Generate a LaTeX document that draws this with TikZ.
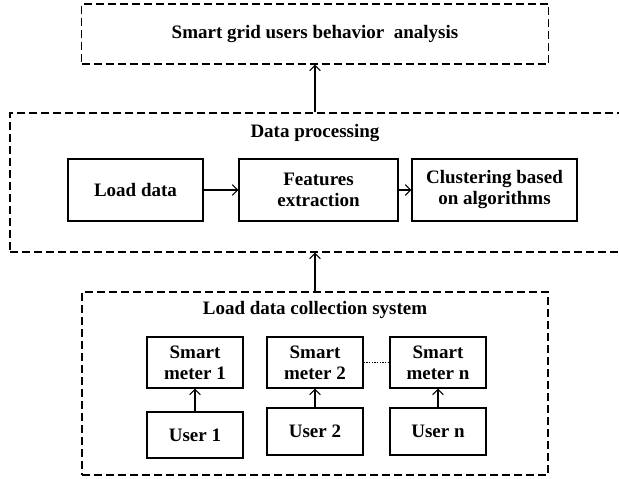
\documentclass[tikz,border=0pt]{standalone}
\usepackage{fontspec}
\setmainfont{Liberation Serif}
\usetikzlibrary{arrows.meta}
\begin{document}
\begin{tikzpicture}[x=0.75pt,y=-0.75pt,
  txt/.style={font=\bfseries\fontsize{14.25}{15.75}\selectfont, align=center, inner sep=0pt},
  dashbox/.style={draw, line width=0.9pt, dash pattern=on 6pt off 3pt, inner sep=0pt},
  solidbox/.style={draw, line width=0.9pt, txt},
  arr/.style={line width=0.8pt, -{Straight Barb[length=4pt,width=8pt,line width=0.8pt]}}
]
\useasboundingbox (0,0) rectangle (619,479);

% outer groups
\node[dashbox, minimum width=467*0.75pt, minimum height=60*0.75pt] (top) at (315,34) {};
\node[txt] (toplbl) at (315,34) {Smart grid users behavior\ \ analysis};

\node[dashbox, minimum width=610*0.75pt, minimum height=139*0.75pt] (proc) at (315,182.5) {};
\node[txt] (proclbl) at (315,133) {Data processing};

\node[dashbox, minimum width=466*0.75pt, minimum height=183*0.75pt] (coll) at (315,383.5) {};
\node[txt] (colllbl) at (315,310) {Load data collection system};

% processing steps
\node[solidbox, minimum width=135*0.75pt, minimum height=62*0.75pt] (load) at (135.5,190) {Load data};
\node[solidbox, minimum width=159*0.75pt, minimum height=62*0.75pt] (feat) at (318.5,190) {Features\\extraction};
\node[solidbox, minimum width=165*0.75pt, minimum height=62*0.75pt] (clus) at (494.5,190) {Clustering based\\on algorithms};

% meters and users
\node[solidbox, minimum width=96*0.75pt, minimum height=51*0.75pt] (m1) at (195,362.5) {Smart\\meter 1};
\node[solidbox, minimum width=96*0.75pt, minimum height=51*0.75pt] (m2) at (315,362.5) {Smart\\meter 2};
\node[solidbox, minimum width=96*0.75pt, minimum height=51*0.75pt] (mn) at (438,362.5) {Smart\\meter n};

\node[solidbox, minimum width=96*0.75pt, minimum height=46*0.75pt] (u1) at (195,435) {User 1};
\node[solidbox, minimum width=96*0.75pt, minimum height=47*0.75pt] (u2) at (315,431.5) {User 2};
\node[solidbox, minimum width=96*0.75pt, minimum height=47*0.75pt] (un) at (438,431.5) {User n};

% connectors
\draw[arr] (proc.north) -- (top.south);
\draw[arr] (coll.north) -- (proc.south);
\draw[arr] (load.east) -- (feat.west);
\draw[arr] (feat.east) -- (clus.west);
\draw[arr] (u1.north) -- (m1.south);
\draw[arr] (u2.north) -- (m2.south);
\draw[arr] (un.north) -- (mn.south);
\draw[line width=0.7pt, dash pattern=on 1pt off 1pt] (m2.east) -- (mn.west);
\end{tikzpicture}
\end{document}
